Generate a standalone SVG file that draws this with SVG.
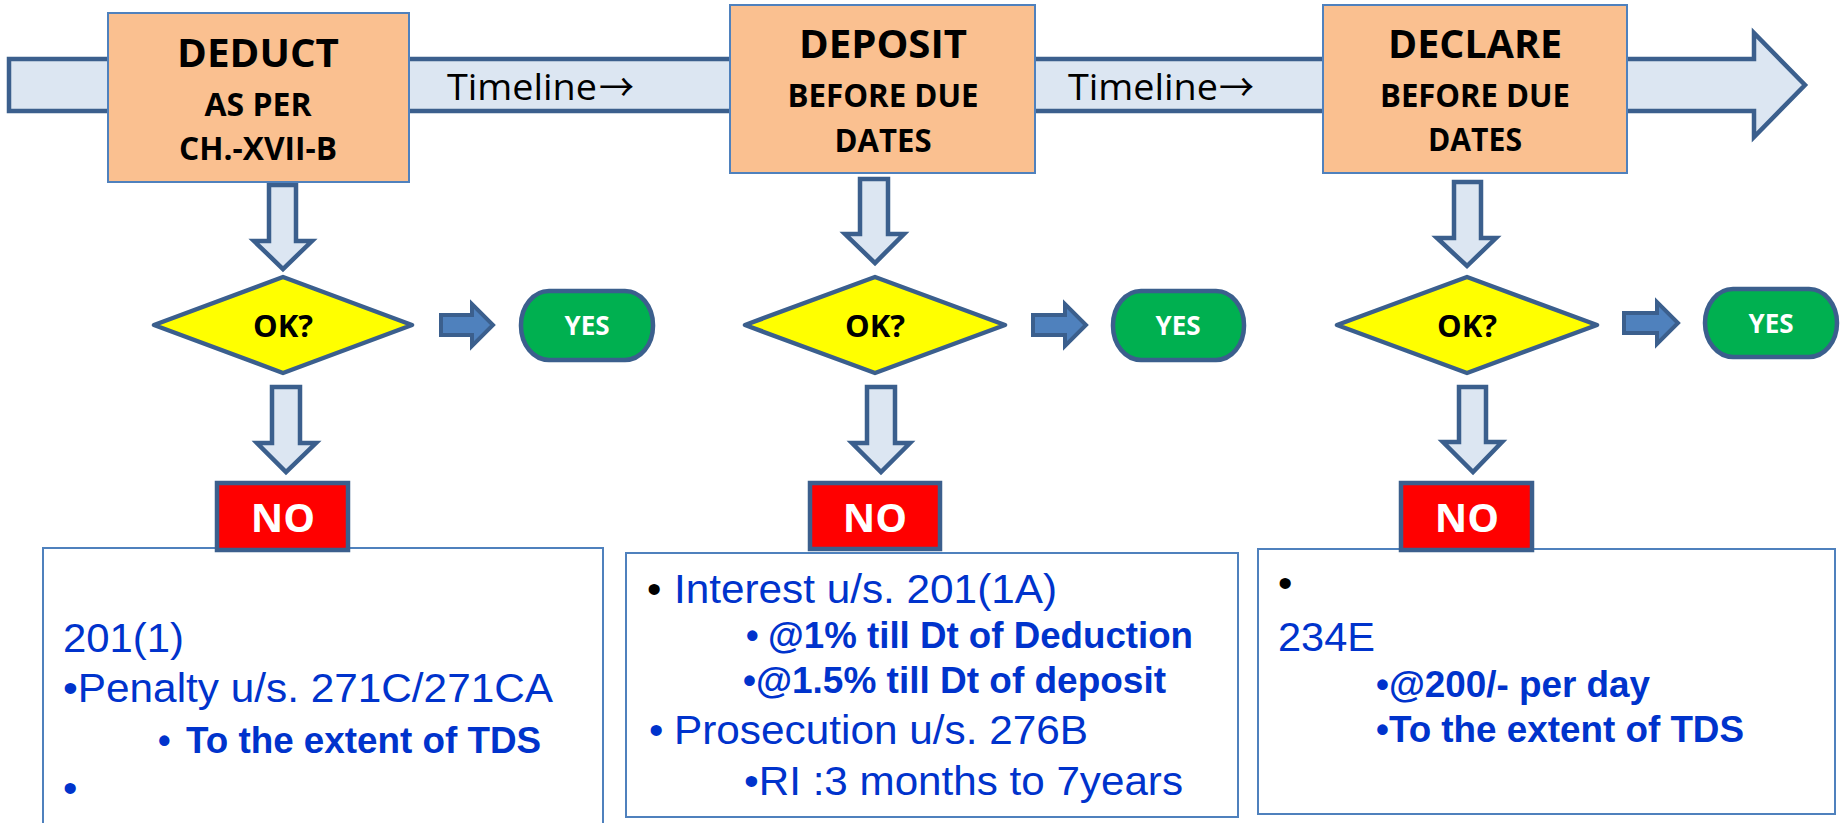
<svg xmlns="http://www.w3.org/2000/svg" width="1841" height="823" viewBox="0 0 1841 823">
<defs>
<style>
.bg{fill:#ffffff}
.blk{fill:#dce6f2;stroke:#3b5f8d;stroke-width:4.5;stroke-linejoin:miter}
.rarr{fill:#4f81bd;stroke:#3b5f8d;stroke-width:4}
.step{fill:#fac090;stroke:#4f81bd;stroke-width:2}
.dia{fill:#ffff00;stroke:#3b5f8d;stroke-width:4.5;stroke-linejoin:round}
.yes{fill:#00b050;stroke:#3b5f8d;stroke-width:4.5}
.no{fill:#ff0000;stroke:#3b5f8d;stroke-width:4.5}
.tbox{fill:#ffffff;stroke:#4f81bd;stroke-width:2}
.cal{font-family:"Open Sans","Liberation Sans",sans-serif}
.h1{font-size:40px;font-weight:bold;fill:#000;text-anchor:middle}
.h2{font-size:32px;font-weight:bold;fill:#000;text-anchor:middle}
.tl{font-size:36px;fill:#000}
.arw{font-family:"Noto Sans CJK JP","DejaVu Sans",sans-serif;font-size:38px;fill:#000}
.ok{font-size:31px;font-weight:bold;fill:#000;text-anchor:middle}
.yt{font-size:26px;font-weight:bold;fill:#fff;text-anchor:middle}
.nt{font-size:40px;font-weight:bold;fill:#fff;text-anchor:middle}
.ar{font-family:"Liberation Sans",Arial,sans-serif;fill:#0033cc}
.r{font-size:41px}
.b{font-size:36px;font-weight:bold}
.k{fill:#000}
</style>
</defs>
<rect class="bg" x="0" y="0" width="1841" height="823"/>

<g id="timeline">
<polygon class="blk" points="9,59 1754,59 1754,33 1805,85 1754,137 1754,111 9,111"/>
<text x="447" y="100"><tspan class="cal tl" textLength="150" lengthAdjust="spacingAndGlyphs">Timeline</tspan></text>
<text class="arw" x="599" y="101" textLength="35" lengthAdjust="spacingAndGlyphs">→</text>
<text x="1068" y="100"><tspan class="cal tl" textLength="150" lengthAdjust="spacingAndGlyphs">Timeline</tspan></text>
<text class="arw" x="1219" y="101" textLength="35" lengthAdjust="spacingAndGlyphs">→</text>
</g>

<g id="connectors">
<polygon class="blk" points="269,185 296,185 296,241 312,241 283,269 254,241 269,241"/>
<polygon class="blk" points="272,387 300,387 300,443 316,443 286,472 257,443 272,443"/>
<polygon class="blk" points="860,179 888,179 888,234 904,234 875,263 845,234 860,234"/>
<polygon class="blk" points="867,387 895,387 895,443 910,443 881,472 852,443 867,443"/>
<polygon class="blk" points="1454,182 1481,182 1481,238 1496,238 1467,266 1437,238 1454,238"/>
<polygon class="blk" points="1459,387 1486,387 1486,442 1502,442 1473,472 1443,442 1459,442"/>
<polygon class="rarr" points="441,315 472,315 472,304 493,325 472,346 472,335 441,335"/>
<polygon class="rarr" points="1033,315 1065,315 1065,304 1086,325 1065,346 1065,335 1033,335"/>
<polygon class="rarr" points="1624,313 1657,313 1657,302 1678,323 1657,344 1657,333 1624,333"/>
</g>

<g id="step-deduct">
<rect class="step" x="108" y="13" width="301" height="169"/>
<text class="cal h1" x="258" y="67" textLength="162" lengthAdjust="spacingAndGlyphs">DEDUCT</text>
<text class="cal h2" x="258" y="116" textLength="107" lengthAdjust="spacingAndGlyphs">AS PER</text>
<text class="cal h2" x="258" y="160" textLength="158" lengthAdjust="spacingAndGlyphs">CH.-XVII-B</text>
</g>
<g id="step-deposit">
<rect class="step" x="730" y="5" width="305" height="168"/>
<text class="cal h1" x="883" y="58" textLength="168" lengthAdjust="spacingAndGlyphs">DEPOSIT</text>
<text class="cal h2" x="883" y="107" textLength="191" lengthAdjust="spacingAndGlyphs">BEFORE DUE</text>
<text class="cal h2" x="883" y="152" textLength="97" lengthAdjust="spacingAndGlyphs">DATES</text>
</g>
<g id="step-declare">
<rect class="step" x="1323" y="5" width="304" height="168"/>
<text class="cal h1" x="1475" y="58" textLength="174" lengthAdjust="spacingAndGlyphs">DECLARE</text>
<text class="cal h2" x="1475" y="107" textLength="190" lengthAdjust="spacingAndGlyphs">BEFORE DUE</text>
<text class="cal h2" x="1475" y="151" textLength="94" lengthAdjust="spacingAndGlyphs">DATES</text>
</g>

<g id="ok-1">
<polygon class="dia" points="283,277 412,325 283,373 154,325"/>
<text class="cal ok" x="283" y="337">OK?</text>
</g>
<g id="ok-2">
<polygon class="dia" points="875,277 1005,325 875,373 745,325"/>
<text class="cal ok" x="875" y="337">OK?</text>
</g>
<g id="ok-3">
<polygon class="dia" points="1467,277 1597,325 1467,373 1337,325"/>
<text class="cal ok" x="1467" y="337">OK?</text>
</g>

<g id="yes-1">
<rect class="yes" x="521" y="291" width="132" height="69" rx="28" ry="34"/>
<text class="cal yt" x="587" y="335">YES</text>
</g>
<g id="yes-2">
<rect class="yes" x="1113" y="291" width="131" height="69" rx="28" ry="34"/>
<text class="cal yt" x="1178" y="335">YES</text>
</g>
<g id="yes-3">
<rect class="yes" x="1705" y="289" width="132" height="68" rx="28" ry="34"/>
<text class="cal yt" x="1771" y="333">YES</text>
</g>

<g id="box-1">
<rect class="tbox" x="43" y="548" width="560" height="290"/>
<text class="ar r" x="63" y="652" textLength="121" lengthAdjust="spacingAndGlyphs">201(1)</text>
<text class="ar r" x="63" y="702" textLength="490" lengthAdjust="spacingAndGlyphs">•Penalty u/s. 271C/271CA</text>
<text class="ar b" x="158" y="753">•</text>
<text class="ar b" x="186" y="753" textLength="355" lengthAdjust="spacingAndGlyphs">To the extent of TDS</text>
<text class="ar r" x="63" y="802">•</text>
</g>
<g id="box-2">
<rect class="tbox" x="626" y="553" width="612" height="264"/>
<text class="ar r k" x="647" y="603">•</text>
<text class="ar r" x="674" y="603" textLength="383" lengthAdjust="spacingAndGlyphs">Interest u/s. 201(1A)</text>
<text class="ar b" x="746" y="648">•</text>
<text class="ar b" x="768" y="648" textLength="425" lengthAdjust="spacingAndGlyphs">@1% till Dt of Deduction</text>
<text class="ar b" x="743" y="693" textLength="423" lengthAdjust="spacingAndGlyphs">•@1.5% till Dt of deposit</text>
<text class="ar r" x="649" y="744">•</text>
<text class="ar r" x="674" y="744" textLength="414" lengthAdjust="spacingAndGlyphs">Prosecution u/s. 276B</text>
<text class="ar r" x="744" y="795" textLength="439" lengthAdjust="spacingAndGlyphs">•RI :3 months to 7years</text>
</g>
<g id="box-3">
<rect class="tbox" x="1258" y="549" width="577" height="265"/>
<text class="ar r k" x="1278" y="597">•</text>
<text class="ar r" x="1278" y="651" textLength="97" lengthAdjust="spacingAndGlyphs">234E</text>
<text class="ar b" x="1376" y="697" textLength="274" lengthAdjust="spacingAndGlyphs">•@200/- per day</text>
<text class="ar b" x="1376" y="742" textLength="368" lengthAdjust="spacingAndGlyphs">•To the extent of TDS</text>
</g>

<g id="no-1">
<rect class="no" x="217" y="483" width="131" height="67"/>
<text class="cal nt" x="283" y="532">NO</text>
</g>
<g id="no-2">
<rect class="no" x="810" y="483" width="130" height="66"/>
<text class="cal nt" x="875" y="532">NO</text>
</g>
<g id="no-3">
<rect class="no" x="1401" y="483" width="131" height="67"/>
<text class="cal nt" x="1467" y="532">NO</text>
</g>
</svg>
